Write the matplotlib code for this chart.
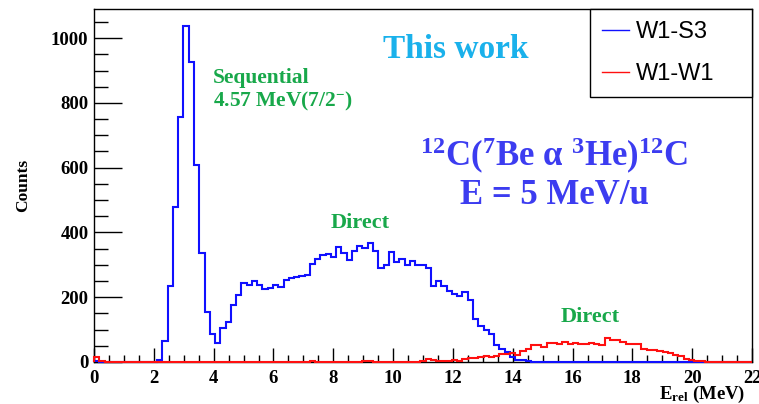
import numpy as np
import matplotlib
matplotlib.use("Agg")
import matplotlib.pyplot as plt
from matplotlib.ticker import MultipleLocator

# ---------------- data ----------------
x_min, x_max, n_bins = 0.0, 22.0, 125
edges = np.linspace(x_min, x_max, n_bins + 1)

# W1-S3 (blue) counts, keyed by bin index
w1s3_bins = list(range(12, 83))
w1s3_counts = [7, 64, 235, 480, 755, 1039, 925, 608, 338, 153, 86, 59,
               104, 123, 175, 206, 245, 237, 249, 239, 224, 230, 237, 232,
               254, 260, 263, 266, 270, 304, 318, 330, 333, 325, 354, 336,
               316, 344, 357, 352, 366, 343, 289, 301, 340, 308, 318, 300,
               311, 299, 299, 290, 236, 249, 236, 220, 211, 203, 215, 191,
               134, 112, 100, 88, 54, 41, 31, 15, 7, 5, 2]
w1s3_extra_bins = [0]
w1s3_extra_counts = [3]

# W1-W1 (red) counts, keyed by bin index
w1w1_bins = [0, 1, 41, 51, 52] + list(range(62, 116))
w1w1_counts = [14, 4, 2, 2, 2,
               3, 10, 6, 4, 4, 2, 5, 4, 8, 13, 13, 15, 20, 14, 18, 24,
               26, 28, 22, 33, 40, 52, 52, 46, 60, 59, 55, 62, 55, 59,
               57, 55, 59, 55, 52, 75, 67, 69, 62, 57, 55, 55, 41, 38,
               36, 34, 31, 28, 23, 18, 10, 5, 2, 3]

series_labels = ["W1-S3", "W1-W1"]
x_ticks = [0, 2, 4, 6, 8, 10, 12, 14, 16, 18, 20, 22]
y_ticks = [0, 200, 400, 600, 800, 1000]

w1s3 = np.zeros(n_bins)
w1s3[w1s3_bins] = w1s3_counts
w1s3[w1s3_extra_bins] = w1s3_extra_counts
w1w1 = np.zeros(n_bins)
w1w1[w1w1_bins] = w1w1_counts

# ---------------- style ----------------
plt.rcParams["mathtext.fontset"] = "custom"
plt.rcParams["mathtext.rm"] = "Liberation Serif:bold"
plt.rcParams["mathtext.bf"] = "Liberation Serif:bold"
plt.rcParams["mathtext.it"] = "Liberation Serif:bold:italic"
plt.rcParams["font.family"] = ["Liberation Serif", "DejaVu Serif"]

fig = plt.figure(figsize=(7.59, 4.04), dpi=100)
W, H = 759, 404
ax = fig.add_axes([94 / W, 1 - 362 / H, (752 - 94) / W, (362 - 9) / H])

blue = "#1010ff"
red = "#ff1010"
ax.stairs(w1s3, edges, color=blue, lw=1.5, baseline=0, label=series_labels[0],
          clip_on=False, zorder=3)
ax.stairs(w1w1, edges, color=red, lw=1.5, baseline=0, label=series_labels[1],
          clip_on=False, zorder=4)

ax.set_xlim(x_min, x_max)
ax.set_ylim(0, 1090)
ax.set_xticks(x_ticks)
ax.set_yticks(y_ticks)
ax.xaxis.set_minor_locator(MultipleLocator(0.5))
ax.yaxis.set_minor_locator(MultipleLocator(50))
ax.tick_params(axis="both", which="both", direction="in", top=False, right=False)
ax.tick_params(axis="y", which="major", length=20, width=1)
ax.tick_params(axis="y", which="minor", length=10, width=1)
ax.tick_params(axis="x", which="major", length=10, width=1)
ax.tick_params(axis="x", which="minor", length=5, width=1)
ax.tick_params(axis="y", pad=4)
ax.tick_params(axis="x", pad=6)
for lab in ax.get_xticklabels() + ax.get_yticklabels():
    lab.set_fontweight("bold")
    lab.set_fontsize(13.5)
for sp in ax.spines.values():
    sp.set_linewidth(1.0)

ax.set_ylabel("Counts", fontsize=12.5, fontweight="bold", labelpad=14)
ax.set_xlabel(r"E$_{\rm rel}$ (MeV)", fontsize=13.5, fontweight="bold",
              loc="right")
ax.xaxis.set_label_coords(0.99, -0.061)

green = "#18a84a"
ax.text(3.98, 863, "Sequential", color=green, fontsize=15.5, fontweight="bold",
        ha="left", va="baseline")
ax.text(3.98, 789, r"4.57 MeV(7/2$^{-}$)", color=green, fontsize=15.5,
        fontweight="bold", ha="left", va="baseline")
ax.text(8.9, 413, "Direct", color=green, fontsize=16, fontweight="bold",
        ha="center", va="baseline")
ax.text(16.6, 123, "Direct", color=green, fontsize=16, fontweight="bold",
        ha="center", va="baseline")
ax.text(12.1, 939, "This work", color="#1ab1eb", fontsize=24, fontweight="bold",
        ha="center", va="baseline")
rx_blue = "#3c3cf0"
ax.text(15.38, 603, r"$^{12}$C($^{7}$Be α $^{3}$He)$^{12}$C", color=rx_blue,
        fontsize=25, fontweight="bold", ha="center", va="baseline")
ax.text(15.38, 488, "E = 5 MeV/u", color=rx_blue, fontsize=25,
        fontweight="bold", ha="center", va="baseline")

leg = ax.legend(loc="upper left", bbox_to_anchor=(0.754, 0.0, 0.246, 0.999),
                mode="expand", frameon=True, fancybox=False, framealpha=1,
                edgecolor="black", handlelength=1.15, handletextpad=0.3,
                borderpad=0.5, labelspacing=0.85, borderaxespad=0.0,
                prop={"family": "Liberation Sans", "size": 17})
leg.get_frame().set_linewidth(1.0)
for h in leg.get_lines():
    h.set_linewidth(1.0)

fig.savefig("out.png", dpi=100)
